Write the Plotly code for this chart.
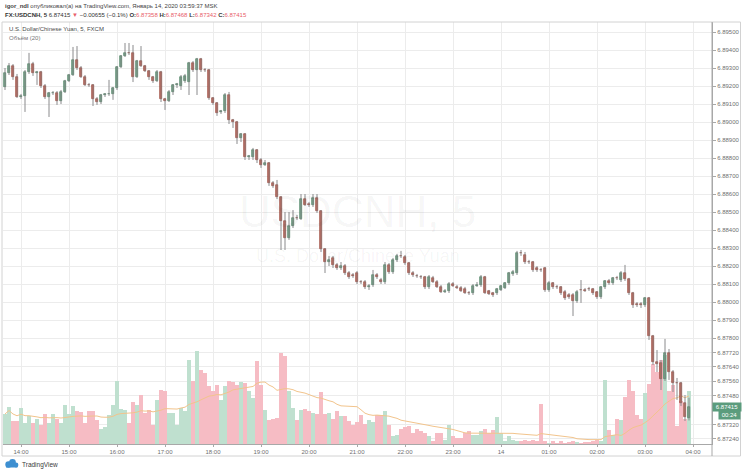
import plotly.graph_objects as go
import pandas as pd

# ---------------- data ----------------
times = pd.date_range("2020-01-13 13:40", periods=172, freq="5min")

open_ = [
    6.89195, 6.89272, 6.89311, 6.89250, 6.89139, 6.89145, 6.89278, 6.89322, 6.89272, 6.89278,
    6.89200, 6.89139, 6.89161, 6.89161, 6.89117, 6.89167, 6.89228, 6.89261, 6.89345, 6.89300,
    6.89250, 6.89206, 6.89206, 6.89128, 6.89111, 6.89150, 6.89156, 6.89156, 6.89189, 6.89306,
    6.89367, 6.89384, 6.89384, 6.89250, 6.89339, 6.89311, 6.89284, 6.89250, 6.89228, 6.89278,
    6.89128, 6.89117, 6.89167, 6.89206, 6.89200, 6.89228, 6.89222, 6.89328, 6.89289, 6.89350,
    6.89289, 6.89289, 6.89134, 6.89106, 6.89056, 6.89061, 6.89150, 6.89011, 6.89000, 6.88911,
    6.88934, 6.88806, 6.88806, 6.88845, 6.88789, 6.88761, 6.88772, 6.88661, 6.88650, 6.88584,
    6.88450, 6.88356, 6.88422, 6.88467, 6.88461, 6.88572, 6.88545, 6.88539, 6.88578, 6.88506,
    6.88295, 6.88222, 6.88245, 6.88206, 6.88189, 6.88200, 6.88161, 6.88150, 6.88161, 6.88111,
    6.88111, 6.88084, 6.88095, 6.88150, 6.88122, 6.88111, 6.88206, 6.88167, 6.88234, 6.88256,
    6.88250, 6.88217, 6.88161, 6.88145, 6.88139, 6.88139, 6.88084, 6.88134, 6.88111, 6.88084,
    6.88056, 6.88061, 6.88100, 6.88084, 6.88078, 6.88072, 6.88050, 6.88050, 6.88089, 6.88095,
    6.88139, 6.88061, 6.88050, 6.88050, 6.88067, 6.88078, 6.88106, 6.88156, 6.88161, 6.88272,
    6.88261, 6.88222, 6.88222, 6.88189, 6.88178, 6.88189, 6.88067, 6.88106, 6.88084, 6.88084,
    6.88056, 6.88039, 6.88039, 6.88006, 6.88067, 6.88067, 6.88072, 6.88072, 6.88056, 6.88028,
    6.88084, 6.88117, 6.88106, 6.88134, 6.88122, 6.88161, 6.88128, 6.88050, 6.87989, 6.87989,
    6.87984, 6.88022, 6.87811, 6.87667, 6.87661, 6.87572, 6.87717, 6.87611, 6.87550, 6.87550,
    6.87439, 6.87358,
]
high = [
    6.89300, 6.89328, 6.89322, 6.89267, 6.89156, 6.89289, 6.89384, 6.89334, 6.89284, 6.89284,
    6.89211, 6.89167, 6.89172, 6.89172, 6.89178, 6.89234, 6.89267, 6.89417, 6.89422, 6.89311,
    6.89261, 6.89217, 6.89211, 6.89139, 6.89156, 6.89161, 6.89234, 6.89195, 6.89311, 6.89372,
    6.89439, 6.89439, 6.89428, 6.89345, 6.89422, 6.89317, 6.89289, 6.89256, 6.89289, 6.89284,
    6.89134, 6.89178, 6.89211, 6.89217, 6.89261, 6.89267, 6.89334, 6.89339, 6.89356, 6.89356,
    6.89300, 6.89295, 6.89139, 6.89111, 6.89067, 6.89161, 6.89167, 6.89017, 6.89006, 6.88939,
    6.88939, 6.88817, 6.88856, 6.88850, 6.88800, 6.88789, 6.88778, 6.88672, 6.88678, 6.88589,
    6.88500, 6.88500, 6.88511, 6.88484, 6.88600, 6.88600, 6.88556, 6.88600, 6.88600, 6.88511,
    6.88300, 6.88256, 6.88256, 6.88217, 6.88222, 6.88211, 6.88172, 6.88161, 6.88172, 6.88122,
    6.88122, 6.88100, 6.88178, 6.88161, 6.88134, 6.88222, 6.88217, 6.88245, 6.88267, 6.88284,
    6.88261, 6.88222, 6.88172, 6.88156, 6.88150, 6.88145, 6.88150, 6.88145, 6.88122, 6.88095,
    6.88072, 6.88111, 6.88111, 6.88095, 6.88089, 6.88084, 6.88061, 6.88100, 6.88111, 6.88150,
    6.88145, 6.88067, 6.88056, 6.88078, 6.88095, 6.88111, 6.88167, 6.88178, 6.88284, 6.88289,
    6.88278, 6.88234, 6.88228, 6.88200, 6.88189, 6.88195, 6.88117, 6.88111, 6.88095, 6.88089,
    6.88067, 6.88050, 6.88050, 6.88067, 6.88122, 6.88078, 6.88084, 6.88078, 6.88061, 6.88089,
    6.88122, 6.88128, 6.88139, 6.88145, 6.88172, 6.88206, 6.88134, 6.88056, 6.88000, 6.88000,
    6.88028, 6.88028, 6.87817, 6.87733, 6.87678, 6.87795, 6.87739, 6.87622, 6.87578, 6.87556,
    6.87483, 6.87468,
]
low = [
    6.89178, 6.89261, 6.89234, 6.89134, 6.89128, 6.89056, 6.89267, 6.89256, 6.89206, 6.89189,
    6.89128, 6.89028, 6.89150, 6.89095, 6.89100, 6.89161, 6.89222, 6.89256, 6.89289, 6.89245,
    6.89200, 6.89195, 6.89089, 6.89095, 6.89100, 6.89139, 6.89145, 6.89123, 6.89178, 6.89300,
    6.89361, 6.89372, 6.89222, 6.89245, 6.89306, 6.89278, 6.89234, 6.89217, 6.89222, 6.89111,
    6.89067, 6.89111, 6.89150, 6.89189, 6.89178, 6.89217, 6.89150, 6.89278, 6.89150, 6.89278,
    6.89278, 6.89123, 6.89095, 6.89034, 6.89045, 6.89050, 6.88989, 6.88967, 6.88878, 6.88889,
    6.88789, 6.88789, 6.88789, 6.88772, 6.88745, 6.88756, 6.88645, 6.88634, 6.88572, 6.88289,
    6.88289, 6.88345, 6.88411, 6.88456, 6.88456, 6.88534, 6.88528, 6.88528, 6.88495, 6.88278,
    6.88161, 6.88200, 6.88189, 6.88178, 6.88178, 6.88150, 6.88128, 6.88134, 6.88100, 6.88100,
    6.88072, 6.88067, 6.88084, 6.88128, 6.88100, 6.88100, 6.88156, 6.88156, 6.88222, 6.88245,
    6.88206, 6.88150, 6.88139, 6.88134, 6.88128, 6.88072, 6.88072, 6.88106, 6.88078, 6.88050,
    6.88050, 6.88050, 6.88084, 6.88072, 6.88056, 6.88045, 6.88039, 6.88039, 6.88084, 6.88084,
    6.88045, 6.88039, 6.88028, 6.88039, 6.88061, 6.88072, 6.88095, 6.88145, 6.88150, 6.88256,
    6.88211, 6.88211, 6.88167, 6.88167, 6.88167, 6.88056, 6.88056, 6.88072, 6.88072, 6.88039,
    6.88011, 6.88017, 6.87922, 6.87995, 6.87995, 6.88056, 6.88061, 6.88039, 6.88017, 6.88017,
    6.88072, 6.88095, 6.88095, 6.88122, 6.88111, 6.88117, 6.88039, 6.87967, 6.87972, 6.87967,
    6.87972, 6.87789, 6.87650, 6.87611, 6.87511, 6.87561, 6.87567, 6.87500, 6.87456, 6.87422,
    6.87339, 6.87342,
]
close = [
    6.89272, 6.89311, 6.89250, 6.89139, 6.89145, 6.89278, 6.89322, 6.89272, 6.89278, 6.89200,
    6.89139, 6.89161, 6.89163, 6.89117, 6.89167, 6.89228, 6.89261, 6.89345, 6.89300, 6.89250,
    6.89206, 6.89203, 6.89128, 6.89111, 6.89150, 6.89156, 6.89158, 6.89189, 6.89306, 6.89367,
    6.89384, 6.89382, 6.89250, 6.89339, 6.89311, 6.89284, 6.89250, 6.89228, 6.89278, 6.89128,
    6.89117, 6.89167, 6.89206, 6.89211, 6.89250, 6.89256, 6.89328, 6.89289, 6.89350, 6.89289,
    6.89287, 6.89134, 6.89106, 6.89050, 6.89061, 6.89150, 6.89011, 6.89000, 6.88911, 6.88934,
    6.88806, 6.88811, 6.88845, 6.88789, 6.88761, 6.88772, 6.88661, 6.88645, 6.88584, 6.88450,
    6.88356, 6.88422, 6.88467, 6.88464, 6.88572, 6.88539, 6.88539, 6.88578, 6.88506, 6.88295,
    6.88222, 6.88234, 6.88206, 6.88189, 6.88200, 6.88161, 6.88139, 6.88145, 6.88111, 6.88109,
    6.88084, 6.88089, 6.88150, 6.88139, 6.88111, 6.88206, 6.88167, 6.88234, 6.88256, 6.88254,
    6.88217, 6.88161, 6.88150, 6.88143, 6.88137, 6.88084, 6.88139, 6.88111, 6.88084, 6.88056,
    6.88061, 6.88100, 6.88089, 6.88078, 6.88061, 6.88050, 6.88048, 6.88089, 6.88095, 6.88139,
    6.88050, 6.88045, 6.88039, 6.88072, 6.88089, 6.88106, 6.88161, 6.88167, 6.88272, 6.88270,
    6.88222, 6.88220, 6.88178, 6.88178, 6.88176, 6.88067, 6.88106, 6.88084, 6.88082, 6.88050,
    6.88022, 6.88028, 6.88006, 6.88056, 6.88065, 6.88061, 6.88070, 6.88050, 6.88028, 6.88084,
    6.88117, 6.88106, 6.88134, 6.88132, 6.88161, 6.88128, 6.88050, 6.87984, 6.87984, 6.87984,
    6.88022, 6.87811, 6.87667, 6.87656, 6.87572, 6.87717, 6.87611, 6.87550, 6.87548, 6.87439,
    6.87361, 6.87415,
]
volume = [
    30, 37, 23, 23, 36, 21, 28, 21, 25, 19,
    30, 21, 30, 25, 21, 39, 30, 38, 33, 32,
    21, 33, 33, 24, 15, 17, 29, 39, 63, 35,
    34, 21, 42, 39, 49, 31, 34, 19, 44, 54,
    53, 31, 31, 19, 36, 33, 84, 63, 93, 74,
    71, 58, 53, 59, 44, 58, 63, 62, 59, 62,
    61, 53, 46, 83, 59, 34, 24, 25, 26, 91,
    88, 53, 36, 24, 34, 35, 33, 31, 30, 52,
    30, 31, 25, 33, 28, 28, 23, 19, 22, 29,
    20, 24, 22, 29, 29, 33, 19, 8, 9, 15,
    17, 18, 11, 15, 13, 11, 8, 3, 11, 11,
    4, 19, 8, 6, 6, 11, 13, 9, 9, 13,
    15, 11, 14, 27, 11, 3, 8, 4, 3, 3,
    4, 3, 4, 3, 40, 3, 1, 3, 1, 3,
    1, 2, 3, 2, 1, 2, 2, 3, 4, 3,
    64, 14, 9, 25, 24, 47, 64, 53, 29, 25,
    51, 60, 80, 72, 84, 89, 53, 59, 18, 43,
    25, 53,
]
price_ticks = [6.8724, 6.8732, 6.8748, 6.8756, 6.8764, 6.8772, 6.8780, 6.8790,
               6.8800, 6.8810, 6.8820, 6.8830, 6.8840, 6.8850, 6.8860, 6.8870,
               6.8880, 6.8890, 6.8900, 6.8910, 6.8920, 6.8930, 6.8940, 6.8950]
hour_ticks = pd.date_range("2020-01-13 14:00", periods=15, freq="h")
hour_labels = ["14:00", "15:00", "16:00", "17:00", "18:00", "19:00", "20:00", "21:00",
               "22:00", "23:00", "14", "01:00", "02:00", "03:00", "04:00"]
last_price = 6.87415
countdown = "00:24"

# ---------------- styles ----------------
UP, DOWN = "#6ba583", "#d75442"
UP_BORDER, DOWN_BORDER = "#2f6a48", "#7a2a1e"
VOL_UP, VOL_DOWN = "#bfe0cf", "#f6bcc4"
WICK = "#8a8a8c"
GRID = "#ececec"
AXIS = "#a8a8a8"
TXT = "#6f6f6f"
FONT = "Liberation Sans"

up = [c >= o for o, c in zip(open_, close)]
vol_ma = pd.Series(volume).rolling(20, min_periods=1).mean()

fig = go.Figure()

# volume (on hidden axis y)
fig.add_trace(go.Bar(
    x=times, y=volume, width=240000,
    marker=dict(color=[VOL_UP if u else VOL_DOWN for u in up], line=dict(width=0)),
    yaxis="y", hoverinfo="skip"))
fig.add_trace(go.Scatter(
    x=times, y=vol_ma, mode="lines", line=dict(color="#f2c48c", width=1),
    yaxis="y", hoverinfo="skip"))

# wicks
wx, wy = [], []
for t, h, l in zip(times, high, low):
    wx += [t, t, None]
    wy += [l, h, None]
fig.add_trace(go.Scatter(x=wx, y=wy, mode="lines", line=dict(color=WICK, width=1),
                         yaxis="y2", hoverinfo="skip", connectgaps=False))

# bodies
base = [min(o, c) for o, c in zip(open_, close)]
size = [max(abs(c - o), 0.000018) for o, c in zip(open_, close)]
fig.add_trace(go.Bar(
    x=times, y=size, base=base, width=200000,
    marker=dict(color=[UP if u else DOWN for u in up],
                line=dict(color=[UP_BORDER if u else DOWN_BORDER for u in up], width=0.6)),
    yaxis="y2", hoverinfo="skip"))

t0 = pd.Timestamp("2020-01-13 13:37:30")
t1 = pd.Timestamp("2020-01-14 04:23:45")

fig.update_layout(
    width=742, height=474,
    margin=dict(l=3, r=30, t=22, b=30),
    paper_bgcolor="white", plot_bgcolor="white",
    showlegend=False, barmode="overlay", bargap=0,
    font=dict(family=FONT, size=6, color=TXT),
    xaxis=dict(type="date", range=[t0, t1], tickvals=list(hour_ticks), ticktext=hour_labels,
               showgrid=True, gridcolor=GRID, gridwidth=1, zeroline=False,
               ticks="outside", ticklen=2, tickcolor=AXIS,
               showline=True, linecolor=AXIS, linewidth=1,
               tickfont=dict(family=FONT, size=6, color=TXT), fixedrange=True),
    yaxis=dict(range=[0, 422], visible=False, fixedrange=True),
    yaxis2=dict(overlaying="y", side="right", anchor="x",
                range=[6.872111, 6.895556], tickvals=price_ticks, tickformat=".5f",
                showgrid=True, gridcolor=GRID, gridwidth=1, zeroline=False,
                ticks="outside", ticklen=3, tickcolor=AXIS,
                showline=True, linecolor=AXIS, linewidth=1,
                tickfont=dict(family=FONT, size=6, color=TXT), fixedrange=True),
)

def px_x(p):
    return (p - 3) / 709.0

def px_y(p):
    return (444 - p) / 422.0

# frame and separators
fig.add_shape(type="rect", xref="paper", yref="paper",
              x0=px_x(2), x1=px_x(740.5), y0=px_y(456), y1=px_y(22),
              line=dict(color="#d2d2d2", width=1), layer="above")
fig.add_shape(type="line", xref="paper", yref="paper",
              x0=1, x1=1, y0=px_y(456), y1=1, line=dict(color=AXIS, width=1))

# watermark
fig.add_annotation(text="USDCNH, 5", xref="paper", yref="paper", x=0.5, y=px_y(211),
                   showarrow=False, font=dict(family=FONT, size=44, color="rgba(0,0,0,0.045)"))
fig.add_annotation(text="U.S. Dollar/Chinese Yuan", xref="paper", yref="paper", x=0.5,
                   y=px_y(256), showarrow=False,
                   font=dict(family=FONT, size=18, color="rgba(0,0,0,0.045)"))

# header
fig.add_annotation(
    text="<b>igor_ndl</b> опубликовал(а) на TradingView.com, Январь 14, 2020 03:59:37 MSK",
    xref="paper", yref="paper", x=px_x(3), y=px_y(6), xanchor="left", yanchor="middle",
    showarrow=False, font=dict(family=FONT, size=6, color="#444"))
RED = "#e8606a"
fig.add_annotation(
    text=("<b>FX:USDCNH, 5</b> 6.87415 <span style='color:%s'>▼</span> −0.00655 (−0.1%%) "
          "<b>O:</b><span style='color:%s'>6.87358</span> <b>H:</b><span style='color:%s'>6.87468</span> "
          "<b>L:</b><span style='color:%s'>6.87342</span> <b>C:</b><span style='color:%s'>6.87415</span>")
         % (RED, RED, RED, RED, RED),
    xref="paper", yref="paper", x=px_x(3), y=px_y(15), xanchor="left", yanchor="middle",
    showarrow=False, font=dict(family=FONT, size=6, color="#333"))

# legend inside chart
fig.add_annotation(text="U.S. Dollar/Chinese Yuan, 5, FXCM", xref="paper", yref="paper",
                   x=px_x(7), y=px_y(29), xanchor="left", yanchor="middle", showarrow=False,
                   font=dict(family=FONT, size=6, color="#4a4a4a"))
fig.add_annotation(text="Объём (20)", xref="paper", yref="paper",
                   x=px_x(7), y=px_y(38.5), xanchor="left", yanchor="middle", showarrow=False,
                   font=dict(family=FONT, size=6, color="#777"))

# last price label
LBL = "#5b9c7d"
fig.add_annotation(text="%.5f" % last_price, xref="paper", yref="y2", x=1, y=last_price,
                   xanchor="left", yanchor="middle", showarrow=False, bgcolor=LBL,
                   width=28, height=8, borderpad=0,
                   font=dict(family=FONT, size=6, color="white"))
fig.add_annotation(text=countdown, xref="paper", yref="y2", x=px_x(741), y=last_price,
                   xanchor="right", yanchor="middle", yshift=-8, showarrow=False, bgcolor=LBL,
                   width=21, height=8, borderpad=0,
                   font=dict(family=FONT, size=6, color="white"))

# footer logo
for cx, cy, r in [(8.5, 464.5, 3.2), (12.5, 462.5, 3.4), (16.0, 465.0, 2.4)]:
    fig.add_shape(type="circle", xref="paper", yref="paper",
                  x0=px_x(cx - r), x1=px_x(cx + r), y0=px_y(cy + r), y1=px_y(cy - r),
                  fillcolor="#3d8fd1", line=dict(width=0))
fig.add_shape(type="rect", xref="paper", yref="paper",
              x0=px_x(6), x1=px_x(17.5), y0=px_y(467.5), y1=px_y(464.5),
              fillcolor="#3d8fd1", line=dict(width=0))
fig.add_annotation(text="TradingView", xref="paper", yref="paper", x=px_x(20), y=px_y(464.5),
                   xanchor="left", yanchor="middle", showarrow=False,
                   font=dict(family=FONT, size=6.5, color="#3a3a3a"))

fig.write_html("out.html")
